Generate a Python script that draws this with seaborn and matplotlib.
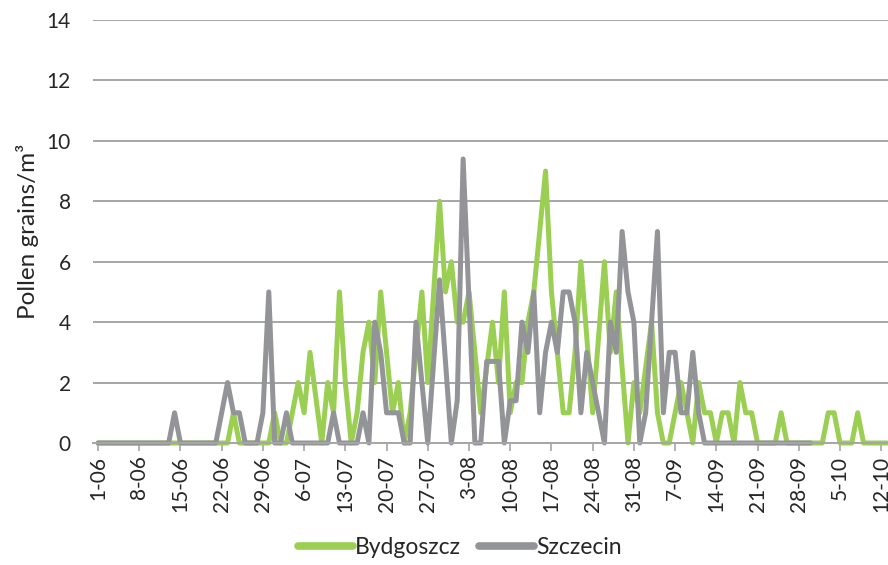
import numpy as np
import pandas as pd
import matplotlib.pyplot as plt
import seaborn as sns

# daily pollen counts, 1 June onwards
bydgoszcz = ([0] * 23 + [1] + [0] * 6 + [1, 0, 0, 1, 2, 1, 3, 1.5, 0, 2, 1, 5, 2, 0, 1, 3, 4, 2, 5, 3, 1, 2,
              0, 1, 3, 5, 2, 5, 8, 5, 6, 4, 4, 5, 3, 1, 2.5, 4, 2, 5, 1, 2, 2, 4, 5, 7, 9, 5, 3, 1, 1,
              3, 6, 3.5, 1, 3.5, 6, 3, 5, 2.5, 0, 2, 1, 2.5, 4, 1, 0, 0, 1, 2, 1, 0, 2, 1, 1, 0, 1, 1,
              0, 2, 1, 1] + [0] * 4 + [1] + [0] * 7 + [1, 1, 0, 0, 0, 1] + [0] * 5)
szczecin = ([0] * 13 + [1] + [0] * 7 + [1, 2, 1, 1, 0, 0, 0, 1, 5, 0, 0, 1] + [0] * 7 + [1] + [0] * 4 +
            [1, 0, 4, 3, 1, 1, 1, 0, 0, 4, 2, 0, 2.7, 5.4, 2.7, 0, 1.4, 9.4, 4.7, 0, 0, 2.7, 2.7, 2.7,
             0, 1.4, 1.4, 4, 3, 5, 1, 3, 4, 3, 5, 5, 4, 1, 3, 2, 1, 0, 4, 3, 7, 5, 4, 0, 1, 4, 7, 1,
             3, 3, 1, 1, 3, 1] + [0] * 19)
cities = ['Bydgoszcz', 'Szczecin']
tick_labels = ['1-06', '8-06', '15-06', '22-06', '29-06', '6-07', '13-07', '20-07', '27-07', '3-08',
               '10-08', '17-08', '24-08', '31-08', '7-09', '14-09', '21-09', '28-09', '5-10', '12-10']

df = pd.concat([
    pd.DataFrame({'day': np.arange(len(bydgoszcz)), 'value': bydgoszcz, 'city': cities[0]}),
    pd.DataFrame({'day': np.arange(len(szczecin)), 'value': szczecin, 'city': cities[1]}),
])

sns.set_style('white')
plt.rcParams['font.family'] = ['Lato', 'DejaVu Sans']
text_col = '#262626'
grid_col = '#A6A6A6'

fig = plt.figure(figsize=(8.88, 5.65), dpi=100)
ax = fig.add_axes([93 / 888, 1 - 443 / 565, 795 / 888, 423 / 565])

sns.lineplot(data=df, x='day', y='value', hue='city', palette=['#9BCF53', '#939497'],
             lw=3.6, ax=ax, solid_joinstyle='round', solid_capstyle='round', clip_on=False)

ax.set_xlim(-0.85, 134.15)
ax.set_ylim(0, 14)
ax.set_yticks(range(0, 15, 2))
ax.set_xticks(range(0, 7 * len(tick_labels), 7))
ax.set_xticklabels(tick_labels, rotation=90, fontsize=15, color=text_col)
ax.tick_params(axis='y', length=0, pad=16, labelsize=15, labelcolor=text_col)
ax.tick_params(axis='x', length=6, width=1.2, color=grid_col, direction='out', pad=3, bottom=True)
ax.yaxis.grid(True, color=grid_col, lw=1.4)
ax.set_axisbelow(True)
for s in ['left', 'top', 'right']:
    ax.spines[s].set_visible(False)
ax.spines['bottom'].set_color(grid_col)
ax.spines['bottom'].set_linewidth(1.4)

ax.set_xlabel('')
ax.set_ylabel('Pollen grains/m³', fontsize=17.5, color=text_col)
ax.yaxis.set_label_coords(-0.068, 0.5)

sns.move_legend(ax, 'center', bbox_to_anchor=(0.4616, -0.248), ncol=2, frameon=False, title=None,
                fontsize=16.5, handlelength=2.4, handletextpad=0.1, columnspacing=0.8)
for t in ax.get_legend().get_texts():
    t.set_color(text_col)
for h in ax.get_legend().legend_handles:
    h.set_linewidth(5.5)

fig.savefig('out.png', dpi=100)
